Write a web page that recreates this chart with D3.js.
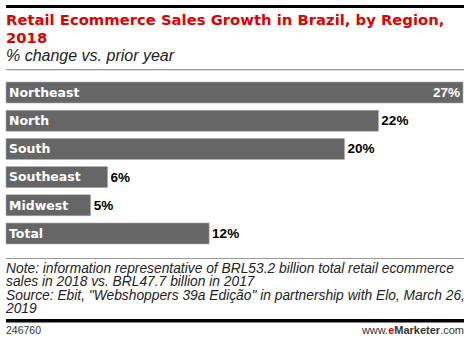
<!DOCTYPE html>
<html><head><meta charset="utf-8">
<script src="https://cdn.jsdelivr.net/npm/d3@7"></script>
<style>body{margin:0;background:#fff}svg{display:block}</style>
</head><body>
<script>
const categories = ["Northeast","North","South","Southeast","Midwest","Total"];
const values = [27,22,20,6,5,12];
const valueLabels = ["27%","22%","20%","6%","5%","12%"];
const title = ["Retail Ecommerce Sales Growth in Brazil, by Region,","2018"];
const subtitle = "% change vs. prior year";
const notes = ["Note: information representative of BRL53.2 billion total retail ecommerce","sales in 2018 vs. BRL47.7 billion in 2017","Source: Ebit, \"Webshoppers 39a Edição\" in partnership with Elo, March 26,","2019"];
const chartId = "246760";

const W=470,H=342, L=6, R=464;
const svg=d3.select("body").append("svg").attr("width",W).attr("height",H);
const F="'Liberation Sans', Arial, sans-serif";
const FB="'DejaVu Sans', sans-serif";

svg.append("rect").attr("x",L).attr("y",5).attr("width",R-L).attr("height",3).attr("fill","#000");
svg.selectAll("text.title").data(title).join("text").attr("class","title")
  .attr("x",L).attr("y",(d,i)=>25.3+i*18).attr("font-family",FB).attr("font-weight","bold")
  .attr("font-size",14.8).attr("fill","#e00000").text(d=>d);
svg.append("text").attr("x",L).attr("y",61).attr("font-family",F).attr("font-style","italic")
  .attr("font-size",16).attr("fill","#222").text(subtitle);
svg.append("rect").attr("x",L).attr("y",69).attr("width",R-L).attr("height",1.3).attr("fill","#999");

const x=d3.scaleLinear().domain([0,27]).range([L,463]);
const y=d3.scaleBand().domain(categories).range([82,244]).paddingInner(0.255).paddingOuter(0);
const g=svg.append("g");
const data=categories.map((c,i)=>({c,v:values[i],lab:valueLabels[i]}));
g.selectAll("rect.bar").data(data).join("rect").attr("class","bar")
  .attr("x",x(0)).attr("y",d=>y(d.c)).attr("width",d=>x(d.v)-x(0)).attr("height",y.bandwidth())
  .attr("fill","#666").attr("stroke","#aaa").attr("stroke-width",0.6);
g.selectAll("text.cat").data(data).join("text").attr("class","cat")
  .attr("x",L+3).attr("y",d=>y(d.c)+y.bandwidth()/2+4.3).attr("font-family",FB).attr("font-weight","bold")
  .attr("font-size",12.5).attr("fill","#fff").text(d=>d.c);
g.selectAll("text.val").data(data).join("text").attr("class","val")
  .attr("x",(d,i)=>i===0?x(d.v)-3:x(d.v)+3).attr("text-anchor",(d,i)=>i===0?"end":"start")
  .attr("y",d=>y(d.c)+y.bandwidth()/2+4.5).attr("font-family",F).attr("font-weight","bold")
  .attr("font-size",13.5).attr("fill",(d,i)=>i===0?"#fff":"#000").text(d=>d.lab);

svg.append("rect").attr("x",L).attr("y",258).attr("width",R-L).attr("height",1).attr("fill","#999");
svg.selectAll("text.note").data(notes).join("text").attr("class","note")
  .attr("x",L).attr("y",(d,i)=>272.5+i*13.5).attr("font-family",F).attr("font-style","italic")
  .attr("font-size",13.8).attr("fill","#222").text(d=>d);
svg.append("rect").attr("x",L).attr("y",319).attr("width",R-L).attr("height",3.5).attr("fill","#000");
svg.append("text").attr("x",L).attr("y",334).attr("font-family",F).attr("font-size",10.5).attr("fill","#333").text(chartId);
const t=svg.append("text").attr("x",R).attr("y",334).attr("text-anchor","end").attr("font-family",F).attr("font-size",11).attr("fill","#333");
t.append("tspan").text("www.");
t.append("tspan").attr("fill","#e00000").attr("font-weight","bold").text("e");
t.append("tspan").attr("font-weight","bold").text("Marketer");
t.append("tspan").text(".com");
</script>
</body></html>
